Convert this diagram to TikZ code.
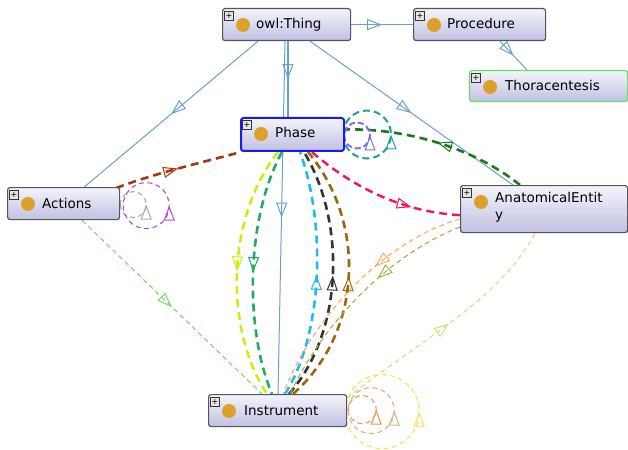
\documentclass[tikz,border=0pt]{standalone}
\usepackage{fontspec}
\setmainfont{DejaVu Sans}
\usetikzlibrary{arrows.meta,decorations.markings,calc,backgrounds}
\definecolor{boxtop}{HTML}{F4F4FC}
\definecolor{boxbot}{HTML}{C0C0E2}
\definecolor{boxedge}{HTML}{555560}
\definecolor{dotor}{HTML}{DBA12A}
\definecolor{isa}{HTML}{6A9FD4}
\definecolor{cbrown}{HTML}{A8360E}
\definecolor{cdkgreen}{HTML}{1C7A1C}
\definecolor{cpink}{HTML}{F01466}
\definecolor{cyg}{HTML}{CDEE10}
\definecolor{cgreen}{HTML}{22AA66}
\definecolor{ccyan}{HTML}{22BBEE}
\definecolor{cblack}{HTML}{333333}
\definecolor{cbrown2}{HTML}{9C6610}
\definecolor{corange}{HTML}{FFAA55}
\definecolor{colive}{HTML}{A8B040}
\definecolor{cly}{HTML}{DCDC88}
\definecolor{clg}{HTML}{77DD66}
\definecolor{cgray}{HTML}{AAAAAA}
\definecolor{cpurple}{HTML}{B44BE0}
\definecolor{cviolet}{HTML}{7F6FF0}
\definecolor{cteal}{HTML}{1AA3A3}
\definecolor{corl}{HTML}{EE9060}
\definecolor{csal}{HTML}{EEA878}
\definecolor{cyel}{HTML}{FFDD55}
\definecolor{thorgreen}{HTML}{66DD66}
\definecolor{phaseblue}{HTML}{1A1AEE}
\tikzset{
  clsbox/.style={draw=boxedge, line width=1.2pt, rounded corners=2.5pt, top color=boxtop, bottom color=boxbot, anchor=north west, inner sep=0pt},
  plusbox/.style={draw=gray!40!black, fill=gray!20, minimum size=9pt, inner sep=0pt, line width=0.6pt, font=\fontsize{8}{8}\selectfont},
  dotc/.style={circle, fill=dotor, minimum size=14pt, inner sep=0pt},
  lbl/.style={anchor=base west, inner sep=0pt, font=\fontsize{13.5}{17}\selectfont},
  mid/.style={postaction={decorate}, decoration={markings, mark=at position #1 with {\arrow{Triangle[open,length=15pt,width=11pt,line width=1pt]}}}},
  mid/.default=0.5,
  isaedge/.style={draw=isa, line width=1pt, mid},
  thk/.style={line width=2.6pt, dash pattern=on 8pt off 5pt},
  thn/.style={line width=1.1pt, dash pattern=on 5pt off 3.5pt},
}
\newcommand{\mkcls}[7]{%
  \node[clsbox, minimum width=#4, minimum height=#5, #7] (#1) at (#2,#3) {};
  \node[plusbox] (#1p) at ($(#1.north west)+(7,8)$) {+};
  \node[dotc] (#1d) at ($(#1.north west)+(21,17)$) {};
}
\begin{document}
\begin{tikzpicture}[x=1pt,y=-1pt]
\useasboundingbox (0,0) rectangle (628,449);
\mkcls{thing}{222}{8}{128}{32}{}{}
\node[lbl] (thingt) at ($(thing.north west)+(34,21)$) {owl:Thing};
\mkcls{proc}{413}{8}{132}{32}{}{}
\node[lbl] (proct) at ($(proc.north west)+(34,21)$) {Procedure};
\mkcls{thor}{469}{70}{158}{31}{}{draw=thorgreen}
\node[lbl] (thort) at ($(thor.north west)+(36,21)$) {Thoracentesis};
\mkcls{phase}{240}{117}{103}{33}{}{draw=phaseblue, line width=2pt}
\node[lbl] (phaset) at ($(phase.north west)+(35,21)$) {Phase};
\mkcls{act}{7}{187}{112}{32}{}{}
\node[lbl] (actt) at ($(act.north west)+(35,21)$) {Actions};
\mkcls{ae}{460}{185}{167}{47}{}{}
\node[anchor=north west, inner sep=0pt, align=left, font=\fontsize{13.5}{17}\selectfont] (aet) at ($(ae.north west)+(35,7)$) {AnatomicalEntit\\y};
\mkcls{instr}{208}{394}{138}{32}{}{}
\node[lbl] (instrt) at ($(instr.north west)+(36,21)$) {Instrument};

\begin{scope}[on background layer]
% is-a edges
\draw[isaedge] (thing.east) -- (proc.west);
\draw[isaedge] ($(proc.south west)+(87,0)$) -- ($(thor.north west)+(58,0)$);
\draw[isaedge] ($(thing.south west)+(36,0)$) -- ($(act.north east)+(-36,0)$);
\draw[isaedge, line width=1.4pt] ($(thing.south west)+(66,0)$) -- ($(phase.north west)+(48,0)$);
\draw[isaedge] ($(thing.south west)+(63,0)$) -- ($(instr.north west)+(70,0)$);
\draw[isaedge] ($(thing.south west)+(88,0)$) -- ($(ae.north west)+(53,0)$);
% Actions -> Phase
\draw[thk, cbrown, mid] ($(act.north east)+(-4,1)$) .. controls +(40,-15) and +(-45,12) .. ($(phase.south west)+(1,0)$);
% Phase -> AE
\draw[thk, cpink, line width=2.4pt, mid=0.7] ($(phase.south west)+(72,0)$) .. controls (350,185) and (400,212) .. ($(ae.west)+(0,6)$);
% AE -> Phase
\draw[thk, cdkgreen, mid] ($(ae.north west)+(60,0)$) .. controls (470,145) and (400,128) .. ($(phase.east)+(0,-5)$);
% Phase -> Instrument
\draw[thk, cyg, mid] ($(phase.south west)+(38,0)$) .. controls (225,220) and (225,330) .. ($(instr.north west)+(59,0)$);
\draw[thk, cgreen, mid] ($(phase.south west)+(42,0)$) .. controls (245,220) and (245,330) .. ($(instr.north west)+(64,0)$);
% Instrument -> Phase
\draw[thk, ccyan, mid] ($(instr.north west)+(77,0)$) .. controls (325,330) and (325,220) .. ($(phase.south west)+(60,0)$);
\draw[thk, cblack, mid] ($(instr.north west)+(81,0)$) .. controls (345,330) and (345,220) .. ($(phase.south west)+(64,0)$);
\draw[thk, cbrown2, mid] ($(instr.north west)+(85,0)$) .. controls (365,330) and (365,220) .. ($(phase.south west)+(68,0)$);
% AE -> Instrument
\draw[thn, corange, mid=0.38] ($(ae.west)+(0,10)$) .. controls (400,235) and (320,300) .. ($(instr.north west)+(75,0)$);
\draw[thn, colive, mid=0.4] ($(ae.west)+(0,18)$) .. controls (400,250) and (330,310) .. ($(instr.north west)+(82,0)$);
% Instrument -> AE
\draw[thn, cly, mid] ($(instr.north east)+(0,4)$) .. controls (420,340) and (500,300) .. ($(ae.south west)+(75,0)$);
% Actions -> Instrument
\draw[thn, clg, mid] ($(act.south west)+(75,0)$) -- ($(instr.north west)+(54,0)$);
% self loops
\coordinate (la1) at ($(act.east)+(13,1)$);
\coordinate (la2) at ($(act.east)+(26,2)$);
\draw[thn, cgray, mid] ($(la1)+(-13,0)$) arc[start angle=180, end angle=-180, radius=13];
\draw[thn, cpurple, mid] ($(la2)+(-23,0)$) arc[start angle=180, end angle=-180, radius=23];
\coordinate (lp1) at ($(phase.east)+(12,1)$);
\coordinate (lp2) at ($(phase.east)+(22,0)$);
\draw[thk, cviolet, line width=2pt, dash pattern=on 6pt off 3pt, mid] ($(lp1)+(-13,0)$) arc[start angle=180, end angle=-180, radius=13];
\draw[thk, cteal, line width=2pt, dash pattern=on 7pt off 4pt, mid] ($(lp2)+(-24,0)$) arc[start angle=180, end angle=-180, radius=24];
\coordinate (li1) at ($(instr.east)+(15,-1)$);
\coordinate (li2) at ($(instr.east)+(24,0)$);
\coordinate (li3) at ($(instr.east)+(35,1)$);
\draw[thn, corl, mid] ($(li1)+(-14,0)$) arc[start angle=180, end angle=-180, radius=14];
\draw[thn, csal, mid] ($(li2)+(-23,0)$) arc[start angle=180, end angle=-180, radius=23];
\draw[thn, cyel, mid] ($(li3)+(-37,0)$) arc[start angle=180, end angle=-180, radius=37];
\end{scope}
\end{tikzpicture}
\end{document}
